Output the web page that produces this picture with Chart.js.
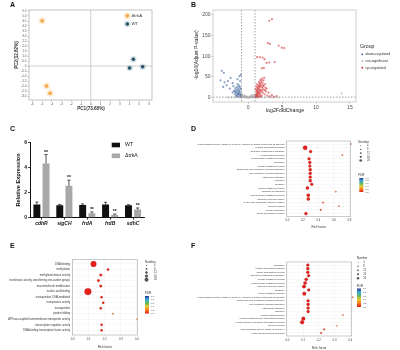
<!DOCTYPE html>
<html>
<head>
<meta charset="utf-8">
<script src="https://cdn.jsdelivr.net/npm/chart.js"></script>
<style>
body { margin: 0; background: #fff; }
#wrap { position: relative; width: 400px; height: 350px; overflow: hidden; font-family: "Liberation Sans", Arial, sans-serif; }
canvas { position: absolute; }
.tag { position: absolute; font-weight: bold; font-size: 7px; line-height: 8px; color: #111; }
</style>
</head>
<body>
<div id="wrap">
  <canvas id="cA" width="185" height="120" style="left:0;top:0"></canvas>
  <canvas id="cB" width="215" height="120" style="left:185px;top:0"></canvas>
  <canvas id="cC" width="185" height="120" style="left:0;top:120px"></canvas>
  <canvas id="cD" width="215" height="120" style="left:185px;top:120px"></canvas>
  <canvas id="cE" width="185" height="110" style="left:0;top:240px"></canvas>
  <canvas id="cF" width="215" height="110" style="left:185px;top:240px"></canvas>
  <div class="tag" style="left:10px;top:1px">A</div>
  <div class="tag" style="left:191px;top:1px">B</div>
  <div class="tag" style="left:10px;top:125px">C</div>
  <div class="tag" style="left:191px;top:125px">D</div>
  <div class="tag" style="left:10px;top:242px">E</div>
  <div class="tag" style="left:191px;top:242px">F</div>
</div>
<script>
// ---- A: PCA ----
const pcaTrkX = [-5.0, -4.55, -4.18];
const pcaTrkY = [4.53, -2.0, -2.73];
const pcaWtX = [4.0, 4.38, 5.34];
const pcaWtY = [-0.2, 0.67, -0.07];
const pcaXTicks = [-6, -5, -4, -3, -2, -1, 0, 1, 2, 3, 4, 5, 6];
const pcaYTicks = [-3, -2.5, -2, -1.5, -1, -0.5, 0, 0.5, 1, 1.5, 2, 2.5, 3, 3.5, 4, 4.5, 5, 5.5];

// ---- B: volcano ----
const upX = [1.05,1.1,1.15,1.2,1.25,1.3,1.35,1.4,1.45,1.5,1.55,1.6,1.65,1.7,1.75,1.8,1.85,1.9,1.95,2.0,2.05,2.1,2.15,2.2,2.25,2.3,2.4,2.5,2.6,2.7,2.8,3.0,3.2,3.5,1.1,1.2,1.3,1.4,1.6,1.8,2.0,1.5,1.7,2.35,1.25,1.35,1.45,1.55,1.65,1.75,1.85,1.95,2.1,2.2,2.45,2.55,4.2,3.8,1.15,1.3,1.5,1.7,1.9];
const upY = [2,5,8,3,12,6,15,9,4,18,11,22,7,14,26,10,19,30,5,16,24,36,12,20,42,28,8,33,15,22,5,12,3,6,20,26,32,24,38,43,46,29,34,48,17,21,13,27,30,17,35,40,27,31,18,24,4,2,1,2,1.5,3,2.5];
const upHighX = [3.1,3.5,2.9,3.2,4.5,4.95,5.3,1.3,1.7,2.1,2.4,2.7,3.1,3.9,2.0,2.3];
const upHighY = [186,190,132,130,126,121,120,98,98,97,93,84,85,86,71,72];
const downX = [-1.05,-1.1,-1.15,-1.2,-1.25,-1.3,-1.35,-1.4,-1.45,-1.5,-1.55,-1.6,-1.65,-1.7,-1.75,-1.8,-1.85,-1.9,-2.0,-2.1,-2.2,-2.3,-1.2,-1.4,-1.6,-1.1,-1.3,-1.5,-1.7,-1.9,
               -3.9,-3.6,-1.3,-1.1,-2.6,-4.1,-3.0,-3.5,-2.3,-1.6,-3.2,-3.7,-2.7,-1.2];
const downY = [2,6,10,4,14,8,18,12,3,22,16,7,26,11,19,5,14,23,9,17,28,13,24,30,33,20,27,9,3,15,
               65,60,52,55,48,42,40,37,35,45,30,26,22,40];
const nsX = [-0.9,-0.8,-0.7,-0.6,-0.5,-0.4,-0.3,-0.2,-0.1,0,0.1,0.2,0.3,0.4,0.5,0.6,0.7,0.8,0.9,-0.95,-0.85,0.95,0.85,-0.6,0.5,-0.3,0.3,
             -3,-2.5,-2,-1.5,-1.2,1.2,1.5,2,2.5,3,3.5,4,4.5,13.8];
const nsY = [1,3,0.5,2,4,1,0.3,1.5,0.2,0.1,0.3,1,0.5,2,1,3,0.8,2.5,1.2,6,8,5,7,5,6,3,4,
             0.4,0.6,0.3,0.8,0.5,0.6,0.3,0.7,0.4,0.5,0.3,0.6,0.2,10.6];
const volXTicks = [0, 5, 10, 15];
const volYTicks = [0, 50, 100, 150, 200];

// ---- C: qPCR ----
const genes = ['cdhR', 'sigCH', 'frdA', 'frdB', 'sdhC'];
const wtMean = [1.05, 1.0, 1.02, 1.05, 1.0];
const wtErr = [0.2, 0.06, 0.08, 0.18, 0.04];
const trkMean = [4.33, 2.55, 0.36, 0.21, 0.66];
const trkErr = [0.72, 0.45, 0.1, 0.08, 0.12];
const relTicks = [0, 2, 4, 6];

// ---- D, E, F: enrichment ----
const termsD = [
  'oxidoreductase activity, acting on NAD(P)H, quinone or similar compound as acceptor',
  'peptide biosynthetic process', 'structural constituent of ribosome', 'electron transport chain',
  'cellular amide metabolic process', 'translation', 'peptide metabolic process',
  'intracellular non-membrane-bounded organelle', 'non-membrane-bounded organelle', 'intracellular organelle',
  'organelle', 'ribosome', 'protein metabolic process', 'inorganic ion transport',
  'cellular protein metabolic process', 'structural molecule activity', 'NADH dehydrogenase (quinone) activity',
  'quinone binding', 'cellular respiration', 'amide biosynthetic process'];
const richD = [0.82,0.23,0.30,0.71,0.28,0.29,0.29,0.295,0.295,0.295,0.295,0.315,0.26,0.625,0.27,0.27,0.46,0.665,0.43,0.24];
const countD = [3,20,12,3,12,12,12,13,13,13,13,12,14,3,14,14,4,3,4,13];
const fdrD = [0.15,0.01,0.02,0.15,0.02,0.02,0.02,0.02,0.02,0.02,0.02,0.02,0.02,0.15,0.02,0.02,0.1,0.15,0.1,0.02];
const richTicksD = [0, 0.2, 0.4, 0.6, 0.8];

const termsE = ['DNA binding', 'methylation', 'methyltransferase activity',
  'transferase activity, transferring one-carbon groups', 'macromolecule modification', 'nucleic acid binding',
  'transposition, DNA-mediated', 'transposase activity', 'transposition', 'protein folding',
  'ATPase-coupled transmembrane transporter activity', 'transcription regulator activity',
  'DNA-binding transcription factor activity'];
const richE = [0.13,0.22,0.175,0.16,0.175,0.095,0.18,0.19,0.175,0.25,0.40,0.18,0.18];
const countE = [17,5,6,6,6,21,5,5,5,2,1,5,5];
const fdrE = [0.01,0.03,0.02,0.02,0.02,0.01,0.03,0.03,0.03,0.15,0.2,0.03,0.03];
const richTicksE = [0, 0.1, 0.2, 0.3, 0.4];

const termsF = ['translation', 'peptide biosynthetic process', 'amide biosynthetic process',
  'structural constituent of ribosome', 'peptide metabolic process', 'cellular amide metabolic process',
  'structural molecule activity', 'ribosome', 'protein metabolic process',
  'oxidoreductase activity, acting on NAD(P)H, quinone or similar compound as acceptor',
  'intracellular non-membrane-bounded organelle', 'non-membrane-bounded organelle', 'intracellular organelle',
  'organelle', 'electron transport chain', 'cellular macromolecule biosynthetic process',
  'cellular nitrogen compound biosynthetic process', 'quinone binding',
  'oxidoreductase activity, acting on NAD(P)H', 'proton transmembrane transport'];
const richF = [0.13,0.13,0.13,0.135,0.12,0.113,0.106,0.136,0.108,0.415,0.132,0.132,0.132,0.132,0.353,0.102,0.094,0.315,0.234,0.215];
const countF = [13,13,13,12,14,16,17,12,17,3,13,13,13,13,3,18,18,2,5,5];
const fdrF = [0.01,0.01,0.01,0.01,0.01,0.01,0.01,0.01,0.01,0.15,0.01,0.01,0.01,0.01,0.15,0.01,0.01,0.15,0.08,0.08];
const richTicksF = [0, 0.1, 0.2, 0.3, 0.4];

const numLabels = ['4', '8', '12', '16', '20'];
const numValues = [4, 8, 12, 16, 20];
const fdrLabels = ['1.0', '0.8', '0.6', '0.4', '0.2', '0.0'];

// ------------------------------------------------------------------
const FONT = '"Liberation Sans", Arial, sans-serif';
Chart.defaults.font.family = FONT;
Chart.defaults.animation = false;
Chart.defaults.responsive = false;
Chart.defaults.plugins.legend.display = false;
Chart.defaults.plugins.tooltip.enabled = false;

function frame(R) {
  return {
    padding: { top: R.area[1] - R.y, right: R.x + R.w - R.area[2], left: 0, bottom: 0 },
    yW: R.area[0] - R.x,
    xH: R.y + R.h - R.area[3]
  };
}

function txt(ctx, s, x, y, size, opt = {}) {
  ctx.save();
  ctx.font = `${opt.style || 'normal'} ${opt.weight || 'normal'} ${size}px ${FONT}`;
  ctx.fillStyle = opt.color || '#222';
  ctx.textAlign = opt.align || 'left';
  ctx.textBaseline = 'middle';
  ctx.translate(x, y);
  if (opt.rot) ctx.rotate(opt.rot);
  ctx.fillText(s, 0, 0);
  ctx.restore();
}

function dot(ctx, x, y, r, fill, stroke, lw) {
  ctx.beginPath();
  ctx.arc(x, y, r, 0, Math.PI * 2);
  ctx.fillStyle = fill;
  ctx.fill();
  if (stroke) { ctx.strokeStyle = stroke; ctx.lineWidth = lw; ctx.stroke(); }
}

function boxAround(ctx, chart, color, lw) {
  const a = chart.chartArea;
  ctx.save();
  ctx.strokeStyle = color;
  ctx.lineWidth = lw;
  ctx.strokeRect(a.left, a.top, a.right - a.left, a.bottom - a.top);
  ctx.restore();
}

const fdrStops = ['#e41a1c', '#f57c1f', '#e8c72a', '#62b95a', '#3aa6d8', '#2b3590'];
function hexRgb(h) { return [1, 3, 5].map(i => parseInt(h.substr(i, 2), 16)); }
function fdrColor(v) {
  const t = Math.min(Math.max(v, 0), 1) * (fdrStops.length - 1);
  const i = Math.min(Math.floor(t), fdrStops.length - 2);
  const f = t - i;
  const a = hexRgb(fdrStops[i]), b = hexRgb(fdrStops[i + 1]);
  const c = a.map((x, k) => Math.round(x + (b[k] - x) * f));
  return `rgb(${c[0]},${c[1]},${c[2]})`;
}

function pairs(xs, ys) { return xs.map((x, i) => ({ x: x, y: ys[i] })); }

// ---- A ----
const RA = { x: 0, y: 0, w: 185, h: 120, area: [29, 10, 152, 100] };
(function () {
  const f = frame(RA);
  new Chart(document.getElementById('cA'), {
    type: 'scatter',
    data: {
      datasets: [
        { label: 'ΔtrkA', data: pairs(pcaTrkX, pcaTrkY), pointRadius: 1.8, pointBackgroundColor: '#f2a541',
          pointBorderColor: 'rgba(245,175,90,0.28)', pointBorderWidth: 3.5, clip: false },
        { label: 'WT', data: pairs(pcaWtX, pcaWtY), pointRadius: 1.8, pointBackgroundColor: '#1f4d5c',
          pointBorderColor: 'rgba(60,110,130,0.2)', pointBorderWidth: 3, clip: false }
      ]
    },
    options: {
      layout: { padding: f.padding },
      scales: {
        x: { type: 'linear', min: -6.35, max: 6.3,
          afterBuildTicks: s => { s.ticks = pcaXTicks.map(v => ({ value: v })); },
          afterFit: s => { s.height = f.xH; },
          ticks: { font: { size: 3 }, color: '#555', padding: 1, maxRotation: 0 },
          grid: { drawOnChartArea: false, tickLength: 1.5, color: '#999', lineWidth: 0.5 },
          border: { display: false } },
        y: { type: 'linear', min: -3.4, max: 5.6,
          afterBuildTicks: s => { s.ticks = pcaYTicks.map(v => ({ value: v })); },
          afterFit: s => { s.width = f.yW; },
          ticks: { font: { size: 3 }, color: '#555', padding: 1, autoSkip: false },
          grid: { drawOnChartArea: false, tickLength: 1.5, color: '#999', lineWidth: 0.5 },
          border: { display: false } }
      }
    },
    plugins: [{
      id: 'extraA',
      beforeDatasetsDraw(chart) {
        const ctx = chart.ctx, a = chart.chartArea;
        const x0 = chart.scales.x.getPixelForValue(0), y0 = chart.scales.y.getPixelForValue(0);
        ctx.save();
        ctx.strokeStyle = '#c4c4c4';
        ctx.lineWidth = 0.8;
        ctx.beginPath();
        ctx.moveTo(x0, a.top); ctx.lineTo(x0, a.bottom);
        ctx.moveTo(a.left, y0); ctx.lineTo(a.right, y0);
        ctx.stroke();
        ctx.restore();
        boxAround(ctx, chart, '#b5b5b5', 0.8);
      },
      afterDraw(chart) {
        const ctx = chart.ctx;
        ctx.save();
        ctx.translate(-RA.x, -RA.y);
        dot(ctx, 127.3, 15.7, 1.8, '#f2a541', 'rgba(245,175,90,0.28)', 3.5);
        txt(ctx, 'ΔtrkA', 131.5, 15.7, 4.3, { color: '#333' });
        dot(ctx, 127.3, 24, 1.8, '#1f4d5c', 'rgba(60,110,130,0.2)', 3);
        txt(ctx, 'WT', 131.5, 24, 4.3, { color: '#333' });
        txt(ctx, 'PC1(73.68%)', 91, 108.5, 4.6, { align: 'center', weight: 'bold', color: '#333' });
        txt(ctx, 'PC2(12.82%)', 16.5, 55, 4.6, { align: 'center', weight: 'bold', color: '#333', rot: -Math.PI / 2 });
        ctx.restore();
      }
    }]
  });
})();

// ---- B ----
const RB = { x: 185, y: 0, w: 215, h: 120, area: [213, 10, 356, 102] };
(function () {
  const f = frame(RB);
  new Chart(document.getElementById('cB'), {
    type: 'scatter',
    data: {
      datasets: [
        { label: 'not-significant', data: pairs(nsX, nsY), pointRadius: 1.1, pointBorderWidth: 0,
          pointBackgroundColor: 'rgba(160,160,160,0.55)', clip: false },
        { label: 'down-regulated', data: pairs(downX, downY), pointRadius: 1.1, pointBorderWidth: 0,
          pointBackgroundColor: 'rgba(45,85,145,0.55)', clip: false },
        { label: 'up-regulated', data: pairs(upX.concat(upHighX), upY.concat(upHighY)), pointRadius: 1.1,
          pointBorderWidth: 0, pointBackgroundColor: 'rgba(205,35,40,0.55)', clip: false }
      ]
    },
    options: {
      layout: { padding: f.padding },
      scales: {
        x: { type: 'linear', min: -5.2, max: 15.9,
          afterBuildTicks: s => { s.ticks = volXTicks.map(v => ({ value: v })); },
          afterFit: s => { s.height = f.xH; },
          ticks: { font: { size: 5 }, color: '#4d4d4d', padding: 1, maxRotation: 0 },
          grid: { drawOnChartArea: false, tickLength: 1.5, color: '#777', lineWidth: 0.5 },
          border: { display: false } },
        y: { type: 'linear', min: -10.5, max: 212,
          afterBuildTicks: s => { s.ticks = volYTicks.map(v => ({ value: v })); },
          afterFit: s => { s.width = f.yW; },
          ticks: { font: { size: 5 }, color: '#4d4d4d', padding: 1 },
          grid: { drawOnChartArea: false, tickLength: 1.5, color: '#777', lineWidth: 0.5 },
          border: { display: false } }
      }
    },
    plugins: [{
      id: 'extraB',
      beforeDatasetsDraw(chart) {
        const ctx = chart.ctx, a = chart.chartArea, sx = chart.scales.x, sy = chart.scales.y;
        ctx.save();
        ctx.strokeStyle = '#444';
        ctx.lineWidth = 0.5;
        ctx.setLineDash([1.5, 1.5]);
        ctx.beginPath();
        [-1, 1].forEach(v => { const px = sx.getPixelForValue(v); ctx.moveTo(px, a.top); ctx.lineTo(px, a.bottom); });
        const py = sy.getPixelForValue(1.3);
        ctx.moveTo(a.left, py); ctx.lineTo(a.right, py);
        ctx.stroke();
        ctx.restore();
        boxAround(ctx, chart, '#c0c0c0', 0.8);
      },
      afterDraw(chart) {
        const ctx = chart.ctx;
        ctx.save();
        ctx.translate(-RB.x, -RB.y);
        txt(ctx, 'log2FoldChange', 285, 110.5, 5.2, { align: 'center', color: '#222' });
        txt(ctx, '-log10(Adjust P-value)', 197, 55, 5.0, { align: 'center', color: '#222', rot: -Math.PI / 2 });
        txt(ctx, 'Group', 360, 47, 5.2, { color: '#222' });
        const items = [['down-regulated', '#2d5591'], ['not-significant', '#b0b0b0'], ['up-regulated', '#cd2328']];
        items.forEach((it, i) => {
          const y = 54.3 + i * 6.7;
          dot(ctx, 362.3, y, 0.9, it[1]);
          txt(ctx, it[0], 365.5, y, 3.6, { color: '#333' });
        });
        ctx.restore();
      }
    }]
  });
})();

// ---- C ----
const RC = { x: 0, y: 120, w: 185, h: 120, area: [30, 142.7, 144.5, 217.7] };
(function () {
  const f = frame(RC);
  new Chart(document.getElementById('cC'), {
    type: 'bar',
    data: {
      labels: genes,
      datasets: [
        { label: 'WT', data: wtMean, backgroundColor: '#111', categoryPercentage: 0.8, barPercentage: 0.76 },
        { label: 'ΔtrkA', data: trkMean, backgroundColor: '#a8a8a8', categoryPercentage: 0.8, barPercentage: 0.76 }
      ]
    },
    options: {
      layout: { padding: f.padding },
      scales: {
        x: { afterFit: s => { s.height = f.xH; },
          ticks: { font: { size: 5, style: 'italic', weight: 'bold' }, color: '#111', padding: 1, maxRotation: 0 },
          grid: { drawOnChartArea: false, offset: false, tickLength: 2, color: '#111', lineWidth: 0.8 },
          border: { color: '#111', width: 1 } },
        y: { min: 0, max: 6,
          afterBuildTicks: s => { s.ticks = relTicks.map(v => ({ value: v })); },
          afterFit: s => { s.width = f.yW; },
          ticks: { font: { size: 5, weight: 'bold' }, color: '#111', padding: 1 },
          grid: { drawOnChartArea: false, tickLength: 2, color: '#111', lineWidth: 0.8 },
          border: { color: '#111', width: 1 } }
      }
    },
    plugins: [{
      id: 'extraC',
      afterDatasetsDraw(chart) {
        const ctx = chart.ctx, sy = chart.scales.y;
        const errs = [wtErr, trkErr];
        ctx.save();
        ctx.strokeStyle = '#111';
        ctx.lineWidth = 0.7;
        chart.data.datasets.forEach((ds, d) => {
          chart.getDatasetMeta(d).data.forEach((bar, i) => {
            const top = sy.getPixelForValue(ds.data[i] + errs[d][i]);
            ctx.beginPath();
            ctx.moveTo(bar.x, bar.y);
            ctx.lineTo(bar.x, top);
            ctx.moveTo(bar.x - 1.6, top);
            ctx.lineTo(bar.x + 1.6, top);
            ctx.stroke();
            if (d === 1) txt(ctx, '**', bar.x, top - 2.2, 5, { align: 'center', weight: 'bold', color: '#111' });
          });
        });
        ctx.restore();
      },
      afterDraw(chart) {
        const ctx = chart.ctx;
        ctx.save();
        ctx.translate(-RC.x, -RC.y);
        ctx.fillStyle = '#111';
        ctx.fillRect(111.7, 142.7, 8.3, 4.6);
        txt(ctx, 'WT', 125, 145, 5.2, { color: '#111' });
        ctx.fillStyle = '#a8a8a8';
        ctx.fillRect(111.7, 153.5, 8.3, 4.6);
        txt(ctx, 'ΔtrkA', 125, 155.8, 5.2, { color: '#111' });
        txt(ctx, 'Relative Expression', 18.5, 180, 5.6, { align: 'center', weight: 'bold', color: '#111', rot: -Math.PI / 2 });
        ctx.restore();
      }
    }]
  });
})();

// ---- D, E, F ----
function makeDot(cfg) {
  const R = cfg.rect, f = frame(R), n = cfg.terms.length;
  new Chart(document.getElementById(cfg.id), {
    type: 'bubble',
    data: {
      datasets: [{
        data: cfg.rich.map((x, i) => ({ x: x, y: i, r: cfg.rad(cfg.count[i]) })),
        backgroundColor: cfg.fdr.map(v => fdrColor(v)),
        borderColor: 'rgba(90,20,20,0.35)',
        borderWidth: 0.3,
        clip: false
      }]
    },
    options: {
      layout: { padding: f.padding },
      scales: {
        x: { type: 'linear', min: cfg.xMin, max: cfg.xMax,
          afterBuildTicks: s => { s.ticks = cfg.xTicks.map(v => ({ value: v })); },
          afterFit: s => { s.height = f.xH; },
          ticks: { font: { size: 2.8 }, color: '#444', padding: 1, maxRotation: 0, callback: v => v.toFixed(1) },
          grid: { color: '#eeeeee', lineWidth: 0.4, tickLength: 1.2 },
          border: { display: false } },
        y: { type: 'linear', reverse: true, min: -0.85, max: n - 1 + 0.85,
          afterBuildTicks: s => { s.ticks = cfg.terms.map((t, i) => ({ value: i })); },
          afterFit: s => { s.width = f.yW; },
          ticks: { font: { size: cfg.labelSize }, color: '#333', padding: 1, autoSkip: false, callback: v => cfg.terms[v] },
          grid: { color: '#eeeeee', lineWidth: 0.4, tickLength: 1.2 },
          border: { display: false } }
      }
    },
    plugins: [{
      id: 'extra' + cfg.id,
      afterDraw(chart) {
        const ctx = chart.ctx;
        boxAround(ctx, chart, '#a8a8a8', 0.6);
        ctx.save();
        ctx.translate(-R.x, -R.y);
        const a = cfg.area;
        txt(ctx, 'Rich factor', (a[0] + a[2]) / 2, cfg.titleY, 3, { align: 'center', color: '#333' });
        const L = cfg.legend;
        txt(ctx, 'Number', L.x, L.numY, 3, { color: '#333' });
        numValues.forEach((v, i) => {
          const y = L.numY + L.numGap * (i + 1);
          dot(ctx, L.dotX, y, cfg.rad(v) * 0.6, '#555');
          txt(ctx, numLabels[i], L.textX, y, 2.6, { color: '#333' });
        });
        txt(ctx, 'FDR', L.x, L.fdrY, 3, { color: '#333' });
        const g = ctx.createLinearGradient(0, L.barTop, 0, L.barBot);
        fdrStops.slice().reverse().forEach((c, i) => g.addColorStop(i / (fdrStops.length - 1), c));
        ctx.fillStyle = g;
        ctx.fillRect(L.barX, L.barTop, 4, L.barBot - L.barTop);
        fdrLabels.forEach((s, i) => {
          const y = L.barTop + (L.barBot - L.barTop) * i / (fdrLabels.length - 1);
          txt(ctx, s, L.barX + 6, y, 2.4, { color: '#333' });
        });
        ctx.restore();
      }
    }]
  });
}

makeDot({
  id: 'cD', rect: { x: 185, y: 120, w: 215, h: 120, area: [286.7, 141, 350.7, 216.7] },
  area: [286.7, 141, 350.7, 216.7],
  terms: termsD, rich: richD, count: countD, fdr: fdrD,
  xMin: -0.008, xMax: 0.817, xTicks: richTicksD, labelSize: 2.3, titleY: 227.5,
  rad: c => 0.5 + c * 0.085,
  legend: { x: 358.3, numY: 142, numGap: 3.7, dotX: 360.7, textX: 367, fdrY: 175, barX: 359.3, barTop: 178, barBot: 192 }
});

makeDot({
  id: 'cE', rect: { x: 0, y: 240, w: 185, h: 110, area: [72.3, 259.3, 137.3, 335] },
  area: [72.3, 259.3, 137.3, 335],
  terms: termsE, rich: richE, count: countE, fdr: fdrE,
  xMin: -0.002, xMax: 0.402, xTicks: richTicksE, labelSize: 2.7, titleY: 347.5,
  rad: c => 0.5 + c * 0.14,
  legend: { x: 145, numY: 261.7, numGap: 3.6, dotX: 146.5, textX: 154, fdrY: 293.3, barX: 145, barTop: 296, barBot: 313.5 }
});

makeDot({
  id: 'cF', rect: { x: 185, y: 240, w: 215, h: 110, area: [286.7, 262, 351.7, 336] },
  area: [286.7, 262, 351.7, 336],
  terms: termsF, rich: richF, count: countF, fdr: fdrF,
  xMin: -0.004, xMax: 0.409, xTicks: richTicksF, labelSize: 2.3, titleY: 348.5,
  rad: c => 0.5 + c * 0.08,
  legend: { x: 356.7, numY: 258.3, numGap: 4.0, dotX: 358, textX: 363.3, fdrY: 285.7, barX: 357, barTop: 288.5, barBot: 307 }
});
</script>
</body>
</html>
